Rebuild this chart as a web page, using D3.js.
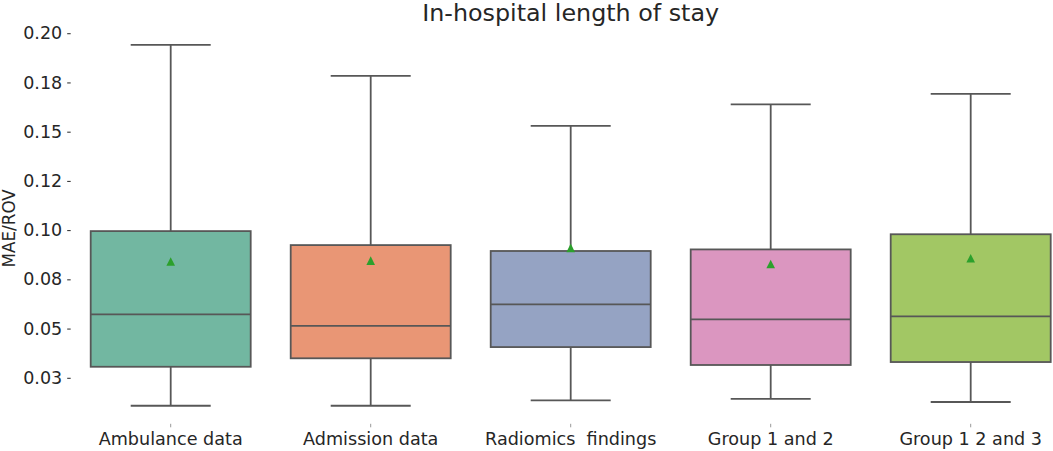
<!DOCTYPE html>
<html>
<head>
<meta charset="utf-8">
<script src="https://cdn.jsdelivr.net/npm/d3@7"></script>
<style>
  body { margin: 0; background: #fff; }
  svg { font-family: "DejaVu Sans", sans-serif; }
</style>
</head>
<body>
<div id="chart"></div>
<script>
// DATA
const categories = ["Ambulance data", "Admission data", "Radiomics  findings", "Group 1 and 2", "Group 1 2 and 3"];
const whiskerLow  = [0.0108, 0.0108, 0.0135, 0.0143, 0.0127];
const q1          = [0.0306, 0.0349, 0.0406, 0.0315, 0.0330];
const median      = [0.0572, 0.0514, 0.0623, 0.0547, 0.0562];
const q3          = [0.0995, 0.0924, 0.0894, 0.0902, 0.0979];
const whiskerHigh = [0.1941, 0.1783, 0.1529, 0.1639, 0.1692];
const means       = [0.0841, 0.0845, 0.0910, 0.0828, 0.0857];
const yTickValues = [0.025, 0.05, 0.075, 0.1, 0.125, 0.15, 0.175, 0.2];
const yTickLabels = ["0.03", "0.05", "0.08", "0.10", "0.12", "0.15", "0.18", "0.20"];
const colors = ["#72b7a1", "#e99675", "#95a3c3", "#db96c0", "#a2c764"];

// SETUP
const width = 1053;
const height = 451;
const plot = { left: 70.7, right: 1070.7, top: 26.8, bottom: 423.8 };
const lineColor = "#575757";
const textColor = "#262626";

const svg = d3.select("#chart")
    .append("svg")
    .attr("width", width)
    .attr("height", height)
    .attr("viewBox", [0, 0, width, height]);

const rows = categories.map((c, i) => ({
    name: c, lo: whiskerLow[i], q1: q1[i], med: median[i], q3: q3[i],
    hi: whiskerHigh[i], mean: means[i], color: colors[i]
}));

// --- SCALES ---
const x = d3.scaleBand()
    .domain(categories)
    .range([plot.left, plot.right])
    .paddingInner(0.2)
    .paddingOuter(0.1);

const lo = d3.min(whiskerLow), hi = d3.max(whiskerHigh);
const pad = (hi - lo) * 0.05;
const y = d3.scaleLinear()
    .domain([lo - pad, hi + pad])
    .range([plot.bottom, plot.top]);

// --- AXES (no spines) ---
const yAxis = svg.append("g")
    .attr("transform", `translate(${plot.left}, 0)`)
    .call(d3.axisLeft(y)
        .tickValues(yTickValues)
        .tickFormat((d, i) => yTickLabels[i])
        .tickSize(3.5)
        .tickPadding(5))
    .call(g => g.select(".domain").remove());
yAxis.selectAll("text").attr("font-size", "17.5px").attr("fill", textColor)
    .attr("font-family", "DejaVu Sans");
yAxis.selectAll("line").attr("stroke", textColor).attr("stroke-width", 1);

const xAxis = svg.append("g")
    .attr("transform", `translate(0, ${plot.bottom})`)
    .call(d3.axisBottom(x).tickSize(3.5).tickPadding(5))
    .call(g => g.select(".domain").remove());
xAxis.selectAll("text").attr("font-size", "17.6px").attr("fill", textColor)
    .attr("font-family", "DejaVu Sans").style("white-space", "pre");
xAxis.selectAll("line").attr("stroke", "#999").attr("stroke-width", 1);

// Y label
svg.append("text")
    .attr("transform", `translate(9, ${(plot.top + plot.bottom) / 2 + 3}) rotate(-90)`)
    .attr("text-anchor", "middle")
    .attr("dominant-baseline", "central")
    .attr("font-size", "16.8px")
    .attr("fill", textColor)
    .text("MAE/ROV");

// Title
svg.append("text")
    .attr("x", (plot.left + plot.right) / 2)
    .attr("y", 20.5)
    .attr("text-anchor", "middle")
    .attr("font-size", "23.8px")
    .attr("fill", textColor)
    .text("In-hospital length of stay");

// --- BOXES ---
const box = svg.append("g")
    .selectAll("g")
    .data(rows)
    .join("g");

const cx = d => x(d.name) + x.bandwidth() / 2;
const capHalf = x.bandwidth() / 4;

// whiskers
box.append("line")
    .attr("x1", cx).attr("x2", cx)
    .attr("y1", d => y(d.q3)).attr("y2", d => y(d.hi))
    .attr("stroke", lineColor).attr("stroke-width", 1.8);
box.append("line")
    .attr("x1", cx).attr("x2", cx)
    .attr("y1", d => y(d.q1)).attr("y2", d => y(d.lo))
    .attr("stroke", lineColor).attr("stroke-width", 1.8);
box.append("line")
    .attr("x1", d => cx(d) - capHalf).attr("x2", d => cx(d) + capHalf)
    .attr("y1", d => y(d.hi)).attr("y2", d => y(d.hi))
    .attr("stroke", lineColor).attr("stroke-width", 1.8);
box.append("line")
    .attr("x1", d => cx(d) - capHalf).attr("x2", d => cx(d) + capHalf)
    .attr("y1", d => y(d.lo)).attr("y2", d => y(d.lo))
    .attr("stroke", lineColor).attr("stroke-width", 1.8);

// box body
box.append("rect")
    .attr("x", d => x(d.name))
    .attr("width", x.bandwidth())
    .attr("y", d => y(d.q3))
    .attr("height", d => y(d.q1) - y(d.q3))
    .attr("fill", d => d.color)
    .attr("stroke", lineColor)
    .attr("stroke-width", 1.8);

// median
box.append("line")
    .attr("x1", d => x(d.name)).attr("x2", d => x(d.name) + x.bandwidth())
    .attr("y1", d => y(d.med)).attr("y2", d => y(d.med))
    .attr("stroke", lineColor).attr("stroke-width", 1.8);

// mean marker
box.append("path")
    .attr("transform", d => `translate(${cx(d)}, ${y(d.mean)})`)
    .attr("d", "M0,-4.3L4.3,4.3L-4.3,4.3Z")
    .attr("fill", "#2ca02c");
</script>
</body>
</html>
